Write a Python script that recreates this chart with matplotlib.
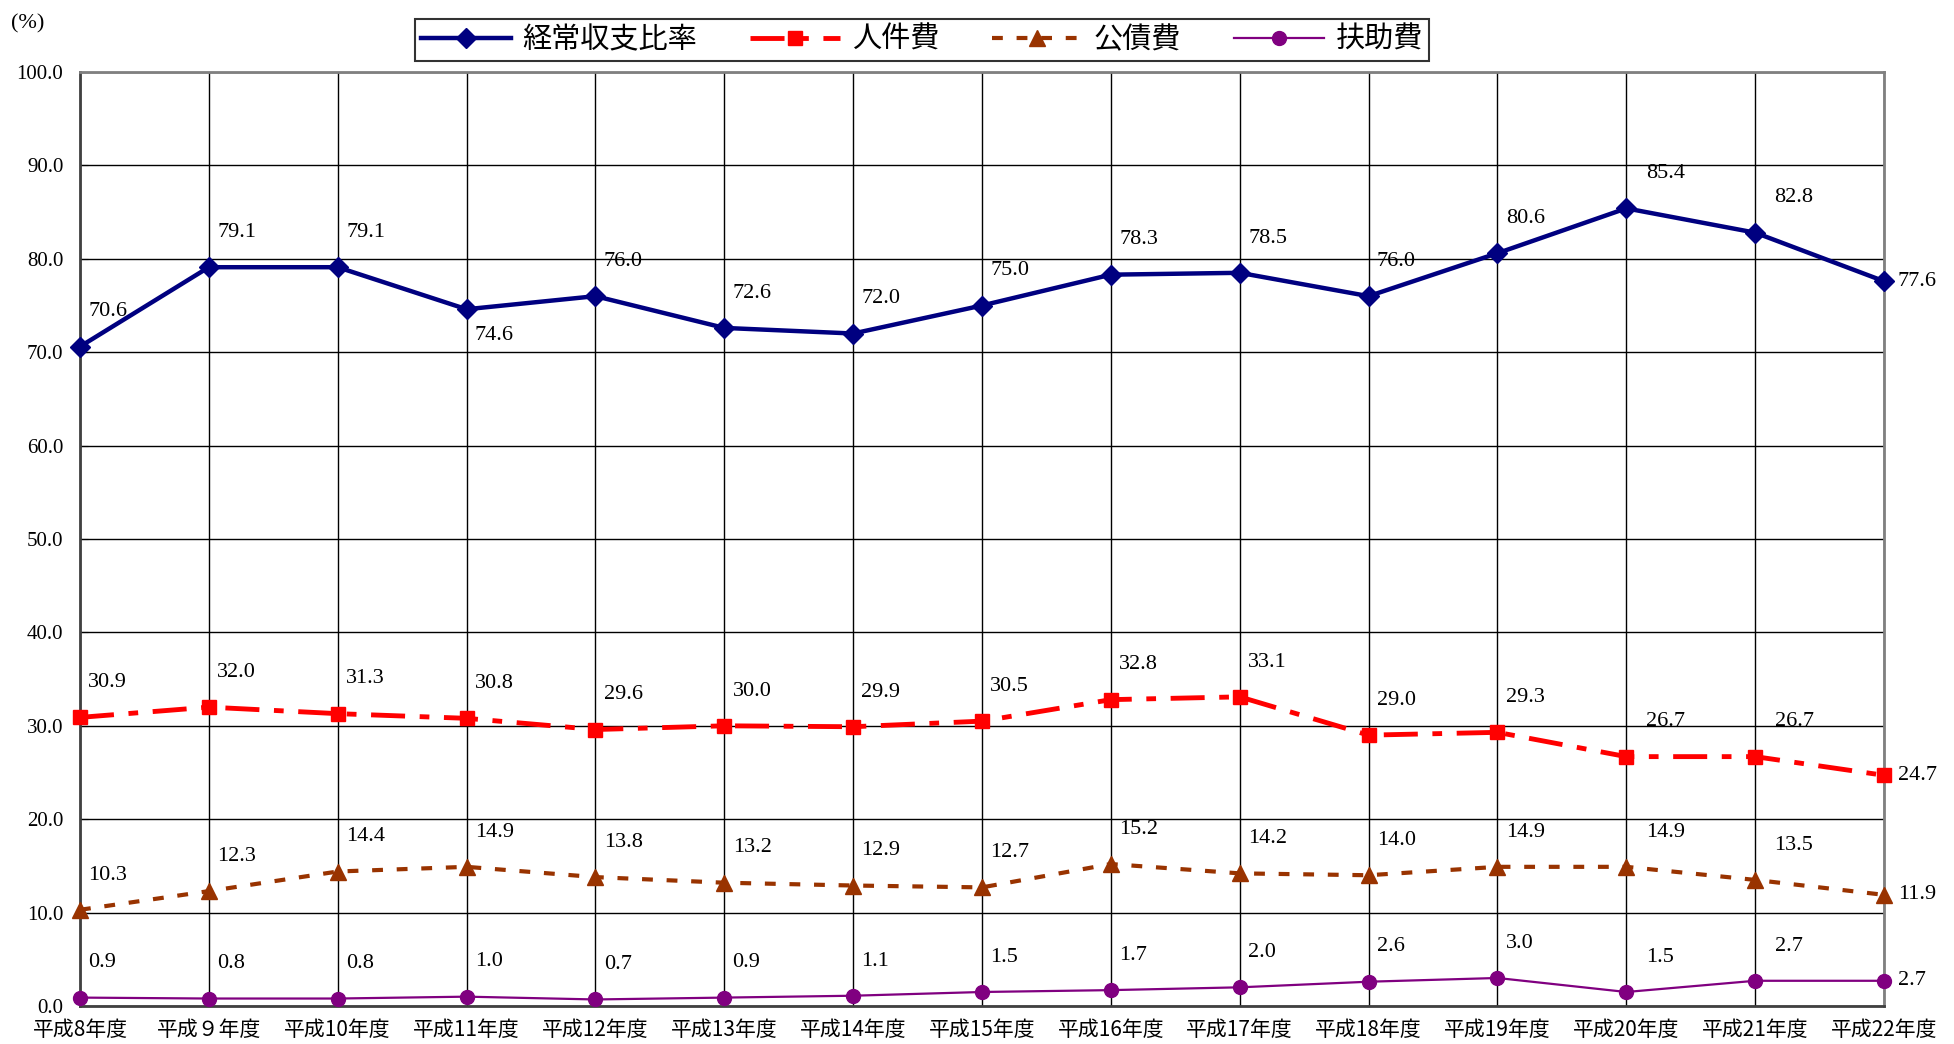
import matplotlib
matplotlib.use("Agg")
import matplotlib.pyplot as plt


# 年度
years = [
    "平成8年度", "平成９年度", "平成10年度", "平成11年度", "平成12年度",
    "平成13年度", "平成14年度", "平成15年度", "平成16年度", "平成17年度",
    "平成18年度", "平成19年度", "平成20年度", "平成21年度", "平成22年度",
]

keijo = [70.6, 79.1, 79.1, 74.6, 76.0, 72.6, 72.0, 75.0, 78.3, 78.5, 76.0, 80.6, 85.4, 82.8, 77.6]
jinken = [30.9, 32.0, 31.3, 30.8, 29.6, 30.0, 29.9, 30.5, 32.8, 33.1, 29.0, 29.3, 26.7, 26.7, 24.7]
kousai = [10.3, 12.3, 14.4, 14.9, 13.8, 13.2, 12.9, 12.7, 15.2, 14.2, 14.0, 14.9, 14.9, 13.5, 11.9]
fujo = [0.9, 0.8, 0.8, 1.0, 0.7, 0.9, 1.1, 1.5, 1.7, 2.0, 2.6, 3.0, 1.5, 2.7, 2.7]

y_ticks = [0, 10, 20, 30, 40, 50, 60, 70, 80, 90, 100]

JP = ["Noto Sans CJK JP", "DejaVu Sans"]
NUM = ["Liberation Serif", "DejaVu Serif"]

SERIES = [
    # label, values, color, marker, markersize, linewidth, dashes
    ("経常収支比率", keijo, "#000080", "D", 10, 3.2, None),
    ("人件費", jinken, "#ff0000", "s", 10, 3.5, (7, 3, 2, 3)),
    ("公債費", kousai, "#993300", "^", 11, 3.0, (2.6, 3.3)),
    ("扶助費", fujo, "#800080", "o", 10, 1.6, None),
]


def label_offset(series_idx, i, n):
    # default: above-right of the point
    if i == n - 1:
        return 10, 0
    dx = 6
    if i in (12, 13):
        dx = 14
    if series_idx == 0 and i == 3:
        return dx, -19
    return dx, 25


def main():
    fig = plt.figure(figsize=(19.54, 10.44), dpi=100)
    ax = fig.add_axes([80 / 1954, 1 - 1006 / 1044, 1804 / 1954, 934 / 1044])

    x = list(range(len(years)))
    n = len(years)

    for s_idx, (name, vals, color, marker, ms, lw, dashes) in enumerate(SERIES):
        line, = ax.plot(
            x, vals, color=color, marker=marker, markersize=ms,
            linewidth=lw, label=name, clip_on=False, zorder=3 + s_idx,
        )
        if dashes is not None:
            line.set_dashes(dashes)
        for i, v in enumerate(vals):
            dx, dy = label_offset(s_idx, i, n)
            ax.annotate(
                f"{v:.1f}", (i, v), xytext=(dx, dy), textcoords="offset points",
                ha="left", va="center", fontsize=16, family=NUM, color="black",
            )

    ax.set_xlim(0, n - 1)
    ax.set_ylim(0, 100)
    ax.set_xticks(x)
    ax.set_xticklabels(years, fontsize=15, family=JP)
    ax.set_yticks(y_ticks)
    ax.set_yticklabels([f"{t:.1f}" for t in y_ticks], fontsize=15, family=NUM)
    ax.tick_params(axis="x", direction="in", length=0, pad=9)
    ax.tick_params(axis="y", direction="in", length=6, pad=12)

    ax.grid(True, color="black", linewidth=1.0)
    ax.set_axisbelow(True)

    for side in ("left", "bottom"):
        ax.spines[side].set_color("#404040")
        ax.spines[side].set_linewidth(2.0)
    for side in ("top", "right"):
        ax.spines[side].set_color("#808080")
        ax.spines[side].set_linewidth(2.0)

    fig.text(28 / 1954, 1 - 24 / 1044, "(%)", ha="center", va="center",
             fontsize=16, family=NUM)

    leg = fig.legend(
        loc="center", bbox_to_anchor=(922 / 1954, 1 - 40 / 1044), ncol=4,
        prop={"family": JP, "size": 21}, frameon=True, fancybox=False,
        handlelength=3.1, columnspacing=1.8, handletextpad=0.4,
        borderpad=0.2, edgecolor="black",
    )
    leg.get_frame().set_linewidth(1.5)

    fig.savefig("out.png", dpi=100)
    plt.close(fig)


if __name__ == "__main__":
    main()
